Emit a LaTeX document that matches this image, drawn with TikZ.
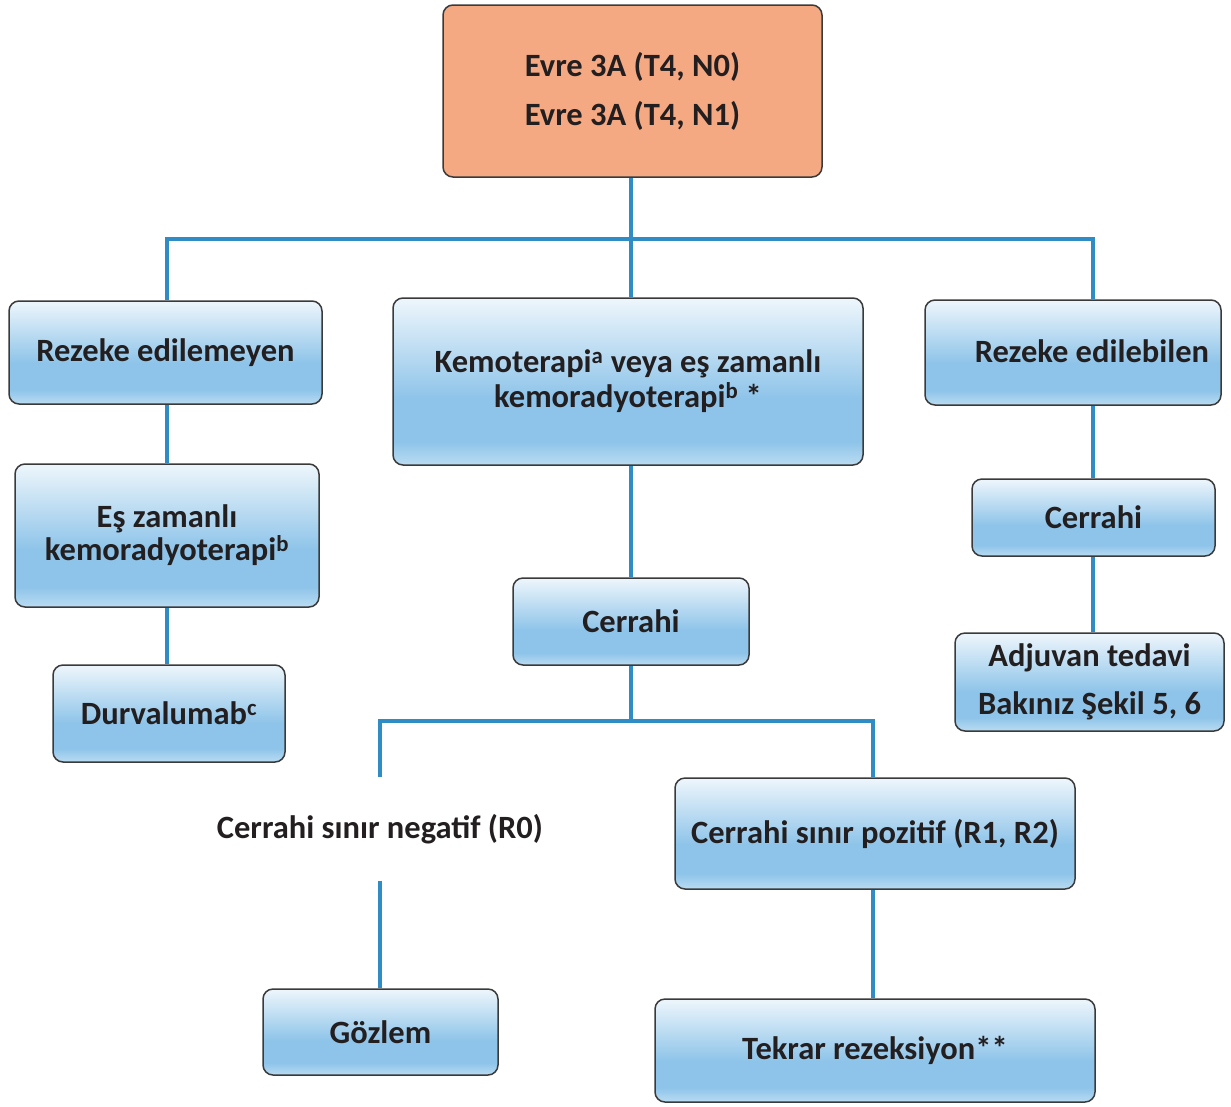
\documentclass[tikz,border=0pt]{standalone}
\usepackage{fontspec}
\setmainfont{Carlito}
\definecolor{ink}{HTML}{231F20}
\definecolor{frame}{HTML}{3A3A3A}
\definecolor{wire}{HTML}{2F8CC4}
\definecolor{salmon}{HTML}{F4A983}
\definecolor{shTop}{HTML}{EEF6FC}
\definecolor{shMid}{HTML}{8EC4E9}
\definecolor{shBot}{HTML}{BADCF2}
% light-to-blue vertical fill with a lighter rim at the bottom
\pgfdeclareverticalshading{bluebox}{100bp}{%
  color(0bp)=(shBot); color(25bp)=(shBot); color(32bp)=(shMid);
  color(45bp)=(shMid); color(75bp)=(shTop); color(100bp)=(shTop)}
\tikzset{
  basebox/.style={draw=frame, line width=1.5pt, rounded corners=10pt,
    align=center, text=ink, inner sep=0pt,
    font=\fontsize{32.5}{35}\selectfont\bfseries},
  box/.style={basebox, shading=bluebox},
  headbox/.style={basebox, fill=salmon},
  link/.style={draw=wire, line width=3.2pt},
}
\begin{document}
\begin{tikzpicture}[x=1pt,y=-1pt]
\useasboundingbox (0,0) rectangle (1231,1106);

% head
\node[headbox, minimum width=379pt, minimum height=172pt, font=\fontsize{32.5}{49}\selectfont\bfseries]
  (top) at (632.5,91) {Evre 3A (T4, N0)\\Evre 3A (T4, N1)};

% first level
\node[box, minimum width=313pt, minimum height=103pt] (rez1) at (165.5,352.5) {Rezeke edilemeyen};
\node[box, minimum width=470pt, minimum height=167pt] (kemo) at (628,381.5)
  {\raisebox{0pt}[0pt][0pt]{}Kemoterapi\textsuperscript{a} veya eş zamanlı\\kemoradyoterapi\textsuperscript{b} *};
\node[box, minimum width=296pt, minimum height=105pt,
  label={[text=ink, font=\fontsize{32.5}{35}\selectfont\bfseries, xshift=19pt, yshift=1.5pt]center:Rezeke edilebilen}]
  (rez2) at (1073,352.5) {};

% left branch
\node[box, minimum width=304pt, minimum height=143pt, font=\fontsize{32.5}{33}\selectfont\bfseries]
  (esz) at (167,535.5) {Eş zamanlı\\kemoradyoterapi\textsuperscript{b}};
\node[box, minimum width=232pt, minimum height=97pt] (durv) at (169,713.5) {Durvalumab\textsuperscript{c}};

% middle branch
\node[box, minimum width=236pt, minimum height=87pt] (cer1) at (631,621.5) {Cerrahi};
\node[text=ink, inner sep=0pt, minimum height=103pt, font=\fontsize{32.5}{35}\selectfont\bfseries]
  (r0) at (380,829) {Cerrahi sınır negatif (R0)};
\node[box, minimum width=400pt, minimum height=111pt] (poz) at (875,833.5) {Cerrahi sınır pozitif (R1, R2)};
\node[box, minimum width=235pt, minimum height=86pt] (goz) at (380.5,1032) {Gözlem};
\node[box, minimum width=440pt, minimum height=103pt] (tek) at (875,1050.5) {Tekrar rezeksiyon**};

% right branch
\node[box, minimum width=243pt, minimum height=77pt] (cer2) at (1093.5,517.5) {Cerrahi};
\node[box, minimum width=269pt, minimum height=98pt, font=\fontsize{32.5}{48}\selectfont\bfseries]
  (adj) at (1089.5,682) {Adjuvan tedavi\\Bakınız Şekil 5, 6};

% connectors
\coordinate (hub) at (631,239);
\coordinate (hub2) at (631,721);
\draw[link] (top.south -| hub) -- (hub);
\draw[link] (hub) -- (167,239) -- (rez1.north -| 167,0);
\draw[link] (hub) -- (1093,239) -- (rez2.north -| 1093,0);
\draw[link] (hub) -- (kemo.north -| hub);
\draw[link] (rez1.south -| 167,0) -- (esz.north -| 167,0);
\draw[link] (esz.south -| 167,0) -- (durv.north -| 167,0);
\draw[link] (kemo.south -| hub) -- (cer1.north -| hub);
\draw[link] (cer1.south -| hub) -- (hub2);
\draw[link] (hub2) -- (380,721) -- (r0.north);
\draw[link] (hub2) -- (873,721) -- (poz.north -| 873,0);
\draw[link] (r0.south) -- (goz.north -| r0.south);
\draw[link] (poz.south -| 873,0) -- (tek.north -| 873,0);
\draw[link] (rez2.south -| 1093,0) -- (cer2.north -| 1093,0);
\draw[link] (cer2.south -| 1093,0) -- (adj.north -| 1093,0);
\end{tikzpicture}
\end{document}
